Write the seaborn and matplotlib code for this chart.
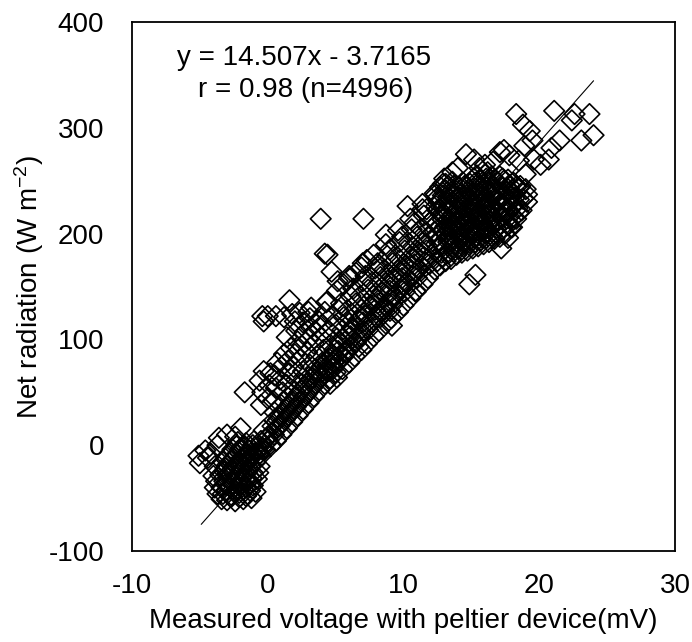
import numpy as np
import pandas as pd
import matplotlib
matplotlib.use("Agg")
import matplotlib.pyplot as plt
import seaborn as sns

# Points, grouped by the part of the cloud they belong to
# (voltage in mV, net radiation in W m-2)
low_blob = [
    (-3.0, -52), (-2.4, -53), (-1.8, -51),
    (-3.3, -46), (-2.7, -47), (-2.1, -45), (-1.5, -46),
    (-3.4, -40), (-2.8, -39), (-2.2, -41), (-1.6, -40), (-1.1, -38),
    (-3.2, -34), (-2.6, -33), (-2.0, -35), (-1.4, -33),
    (-3.5, -28), (-2.9, -27), (-2.3, -29), (-1.7, -28), (-1.1, -26),
    (-3.1, -22), (-2.5, -21), (-1.9, -23), (-1.3, -20),
    (-3.3, -16), (-2.7, -15), (-2.1, -17), (-1.5, -14), (-0.9, -16),
    (-2.9, -10), (-2.3, -9), (-1.7, -11), (-1.1, -8),
    (-2.6, -4), (-2.0, -3), (-1.4, -5), (-0.8, -2),
    (-2.2, 3), (-1.6, 2), (-1.0, 4),
    (-2.7, -49), (-2.1, -49), (-1.6, -48),
    (-3.0, -43), (-2.4, -43), (-1.8, -42), (-1.3, -43),
    (-3.1, -37), (-2.5, -37), (-1.9, -36), (-1.3, -37),
    (-2.9, -31), (-2.3, -31), (-1.7, -32), (-1.2, -31),
    (-3.2, -25), (-2.6, -25), (-2.0, -24), (-1.5, -25),
    (-3.0, -19), (-2.4, -19), (-1.8, -18), (-1.2, -19),
    (-3.1, -13), (-2.5, -13), (-1.9, -12), (-1.3, -13),
    (-2.7, -7), (-2.1, -7), (-1.5, -8), (-0.9, -7),
    (-2.3, -1), (-1.7, -1), (-1.1, 0),
    (-3.8, -34), (-3.9, -40), (-3.7, -46), (-3.4, -51), (-1.2, -50), (-0.9, -44),
    (-0.8, -32), (-0.6, -20), (-0.5, -10), (-0.7, -26), (-0.4, -4),
    (-5.0, -17), (-5.1, -10), (-4.0, -29), (-4.6, -5), (-3.7, 0), (-4.4, -12),
    (-3.9, -20), (-4.2, -8), (-3.6, 7), (-3.0, 10), (-2.4, 8), (-2.0, 16), (-1.7, 50),
]

low_band = [
    (-0.6, -8), (-0.5, 4), (-0.2, -4), (0.0, 8), (0.2, -1), (0.3, 12), (0.6, 4),
    (0.7, 16), (1.0, 10), (1.1, 22), (1.4, 16), (1.5, 28), (1.8, 22), (1.9, 34),
    (2.2, 28), (2.3, 40), (2.6, 34), (2.7, 46), (3.0, 40), (3.1, 52), (3.4, 46),
    (3.5, 58), (3.8, 52), (3.9, 64), (4.2, 58), (4.3, 70), (4.6, 63), (4.7, 76),
    (5.0, 69), (5.1, 82), (0.5, 24), (1.3, 34), (2.1, 46), (2.9, 58), (3.7, 70),
    (4.5, 82), (-0.9, -12), (-0.3, 14), (0.9, 28), (1.7, 40), (2.5, 52), (3.3, 64),
    (4.1, 76),
    (-0.4, -2), (0.05, 4), (0.45, 10), (0.85, 18), (1.25, 24), (1.65, 30), (2.05, 36),
    (2.45, 42), (2.85, 48), (3.25, 54), (3.65, 60), (4.05, 66), (4.45, 72), (4.85, 78),
    (-0.1, 6), (0.35, 18), (0.75, 24), (1.15, 30), (1.55, 36), (1.95, 42), (2.35, 50),
    (2.75, 56), (3.15, 62), (3.55, 68), (3.95, 74), (4.35, 80), (4.75, 86),
]

upper_shelf = [
    (-0.5, 38), (-0.4, 50), (-0.6, 61), (-0.3, 70), (0.0, 44), (0.1, 57), (0.2, 68),
    (0.5, 31), (0.4, 42), (0.6, 54), (0.5, 66), (0.7, 78),
    (1.0, 38), (1.1, 50), (0.9, 62), (1.0, 74), (1.2, 86),
    (1.5, 45), (1.4, 57), (1.6, 68), (1.5, 80), (1.7, 92), (1.4, 102),
    (2.0, 51), (2.1, 62), (1.9, 74), (2.0, 86), (2.2, 98), (2.1, 108),
    (2.5, 58), (2.6, 70), (2.4, 82), (2.5, 94), (2.7, 106),
    (3.0, 64), (3.1, 76), (2.9, 88), (3.0, 100), (3.2, 111), (3.1, 120),
    (3.5, 72), (3.6, 84), (3.4, 96), (3.5, 108), (3.7, 118),
    (4.0, 78), (4.1, 90), (3.9, 102), (4.0, 114), (4.2, 126), (4.3, 135),
    (-0.4, 122), (-0.3, 117), (0.0, 122), (0.6, 122), (1.2, 121), (1.8, 124),
    (2.0, 117), (1.6, 137), (3.0, 126), (2.6, 116), (2.35, 125), (3.2, 130),
]

mid_band = [
    (4.6, 58), (4.5, 70), (4.7, 83), (4.6, 95), (4.5, 108), (4.7, 122), (4.4, 136),
    (5.1, 64), (5.0, 77), (5.2, 89), (5.1, 101), (5.0, 114), (5.2, 128), (5.1, 146),
    (5.5, 72), (5.6, 84), (5.4, 96), (5.5, 109), (5.6, 121), (5.4, 134), (5.6, 152),
    (6.0, 78), (5.9, 90), (6.1, 103), (6.0, 115), (5.9, 128), (6.1, 141), (6.0, 158),
    (6.4, 84), (6.5, 97), (6.3, 109), (6.4, 122), (6.5, 134), (6.3, 148), (6.5, 163),
    (6.9, 90), (6.8, 103), (7.0, 116), (6.9, 128), (6.8, 141), (7.0, 155), (6.9, 168),
    (7.3, 96), (7.4, 109), (7.2, 122), (7.3, 134), (7.4, 147), (7.2, 160), (7.3, 175),
    (7.8, 103), (7.7, 116), (7.9, 128), (7.8, 141), (7.7, 154), (7.9, 167), (7.8, 180),
    (8.2, 108), (8.3, 121), (8.1, 134), (8.2, 147), (8.3, 159), (8.1, 172),
    (8.7, 115), (8.6, 128), (8.8, 141), (8.7, 153), (8.6, 166), (8.8, 179), (8.7, 190),
    (9.1, 120), (9.2, 133), (9.0, 146), (9.1, 159), (9.2, 172), (9.0, 185),
    (9.6, 126), (9.5, 139), (9.7, 152), (9.6, 165), (9.5, 178), (9.7, 192), (9.6, 203),
    (10.0, 132), (10.1, 145), (9.9, 158), (10.0, 171), (10.1, 184), (9.9, 197),
    (10.5, 139), (10.4, 152), (10.6, 165), (10.5, 178), (10.4, 191), (10.6, 204), (10.5, 214),
    (10.9, 145), (11.0, 158), (10.8, 171), (10.9, 184), (11.0, 197), (10.8, 210),
    (11.4, 152), (11.3, 165), (11.5, 178), (11.4, 191), (11.3, 204), (11.5, 217), (11.4, 228),
    (11.8, 158), (11.9, 171), (11.7, 184), (11.8, 197), (11.9, 210), (11.7, 223),
    (4.8, 72), (5.3, 80), (5.8, 88), (6.2, 94), (6.7, 101), (7.1, 108), (7.6, 115),
    (8.0, 121), (8.4, 127), (8.9, 134), (9.3, 140), (9.8, 147), (10.2, 153), (10.7, 160),
    (11.1, 166), (11.6, 173),
    (4.9, 90), (5.3, 97), (5.8, 104), (6.2, 111), (6.7, 118), (7.1, 125), (7.6, 132),
    (8.0, 138), (8.4, 145), (8.9, 151), (9.3, 158), (9.8, 164), (10.2, 170), (10.7, 177),
    (11.1, 183), (11.6, 190),
]

core = [
    (12.3, 166), (12.2, 178), (12.4, 190), (12.3, 202), (12.2, 214), (12.4, 226), (12.3, 238),
    (12.7, 170), (12.8, 182), (12.6, 194), (12.7, 206), (12.8, 218), (12.6, 230), (12.7, 244),
    (13.1, 174), (13.0, 185), (13.2, 196), (13.1, 207), (13.0, 218), (13.2, 229), (13.1, 241), (13.0, 252),
    (13.5, 176), (13.6, 187), (13.4, 198), (13.5, 208), (13.6, 218), (13.4, 228), (13.5, 239), (13.6, 249),
    (13.9, 180), (13.8, 190), (14.0, 200), (13.9, 210), (13.8, 220), (14.0, 230), (13.9, 240),
    (14.3, 182), (14.4, 192), (14.2, 201), (14.3, 210), (14.4, 219), (14.2, 228), (14.3, 238), (14.4, 248),
    (14.7, 184), (14.6, 194), (14.8, 203), (14.7, 212), (14.6, 221), (14.8, 230), (14.7, 240),
    (15.1, 186), (15.2, 196), (15.0, 205), (15.1, 214), (15.2, 223), (15.0, 232), (15.1, 242), (15.2, 252),
    (15.5, 188), (15.4, 198), (15.6, 207), (15.5, 216), (15.4, 225), (15.6, 234), (15.5, 244), (15.4, 255),
    (15.9, 190), (16.0, 200), (15.8, 209), (15.9, 218), (16.0, 227), (15.8, 236), (15.9, 246), (16.0, 256),
    (16.3, 192), (16.2, 202), (16.4, 211), (16.3, 220), (16.2, 229), (16.4, 238), (16.3, 248), (16.2, 258),
    (16.7, 195), (16.8, 205), (16.6, 214), (16.7, 223), (16.8, 232), (16.6, 241), (16.7, 251),
    (17.1, 197), (17.0, 207), (17.2, 216), (17.1, 226), (17.0, 235), (17.2, 245), (17.1, 254),
    (17.5, 200), (17.6, 210), (17.4, 220), (17.5, 230), (17.6, 240), (17.4, 250),
    (17.9, 206), (17.8, 216), (18.0, 226), (17.9, 236), (17.8, 246),
    (18.3, 214), (18.4, 224), (18.2, 234), (18.3, 244),
    (18.7, 222), (18.8, 233), (18.6, 245),
    (19.1, 230), (19.0, 242),
    (12.5, 174), (12.5, 186), (12.5, 198), (12.5, 210), (12.5, 222), (12.5, 234),
    (12.9, 178), (12.9, 190), (12.9, 202), (12.9, 213), (12.9, 224), (12.9, 236), (12.9, 247),
    (13.3, 181), (13.3, 192), (13.3, 203), (13.3, 213), (13.3, 223), (13.3, 234), (13.3, 245),
    (13.7, 183), (13.7, 195), (13.7, 205), (13.7, 215), (13.7, 225), (13.7, 235), (13.7, 245),
    (14.1, 186), (14.1, 197), (14.1, 206), (14.1, 215), (14.1, 224), (14.1, 234), (14.1, 244),
    (14.5, 189), (14.5, 199), (14.5, 208), (14.5, 217), (14.5, 226), (14.5, 235), (14.5, 245),
    (14.9, 191), (14.9, 201), (14.9, 210), (14.9, 219), (14.9, 228), (14.9, 237), (14.9, 247),
    (15.3, 192), (15.3, 202), (15.3, 211), (15.3, 220), (15.3, 229), (15.3, 238), (15.3, 248),
    (15.7, 194), (15.7, 203), (15.7, 212), (15.7, 221), (15.7, 230), (15.7, 240), (15.7, 250),
    (16.1, 196), (16.1, 205), (16.1, 215), (16.1, 224), (16.1, 233), (16.1, 243), (16.1, 252),
    (16.5, 198), (16.5, 208), (16.5, 217), (16.5, 226), (16.5, 235), (16.5, 245), (16.5, 254),
    (16.9, 200), (16.9, 211), (16.9, 220), (16.9, 230), (16.9, 240), (16.9, 249),
    (17.3, 204), (17.3, 214), (17.3, 224), (17.3, 234), (17.3, 243), (17.3, 252),
    (17.7, 208), (17.7, 220), (17.7, 231), (17.7, 242), (17.7, 251),
    (18.1, 215), (18.1, 226), (18.1, 238), (18.1, 248),
    (18.5, 220), (18.5, 232), (18.5, 243),
]

outliers = [
    (18.3, 313), (18.8, 303), (19.3, 297), (19.5, 288), (18.9, 283), (17.4, 279), (16.0, 265),
    (21.1, 316), (22.6, 313), (23.7, 313), (22.4, 307), (24.0, 293), (23.1, 288), (21.5, 288),
    (20.9, 281), (20.7, 270), (20.1, 265), (19.6, 270), (18.5, 269), (17.8, 274), (19.0, 256),
    (19.1, 237), (18.0, 206),
    (14.6, 275), (15.6, 262), (17.1, 277), (13.6, 258), (13.1, 247), (12.4, 237), (10.3, 226),
    (11.4, 223), (14.0, 262), (15.2, 270), (16.6, 268),
    (3.9, 214), (7.05, 214), (8.7, 199), (4.2, 181), (4.7, 164), (7.0, 172), (8.2, 170),
    (4.4, 180), (5.15, 155), (6.0, 160),
    (15.3, 161), (14.85, 152), (17.7, 196), (17.2, 186), (10.9, 146), (9.0, 127), (9.15, 113),
    (6.7, 93),
]

# fitted line as printed on the chart
slope, intercept = 14.507, -3.7165
fit_x = [-4.9, 24.0]

xticks = [-10, 0, 10, 20, 30]
yticks = [-100, 0, 100, 200, 300, 400]

pts = low_blob + low_band + upper_shelf + mid_band + core + outliers
df = pd.DataFrame(pts, columns=["voltage", "rn"])

sns.set_style("white")
plt.rcParams['font.family'] = ['Liberation Sans', 'DejaVu Sans']
plt.rcParams['mathtext.fontset'] = 'custom'
plt.rcParams['mathtext.rm'] = 'Liberation Sans'
plt.rcParams['mathtext.it'] = 'Liberation Sans'
plt.rcParams['axes.unicode_minus'] = False
plt.rcParams['text.color'] = 'black'
plt.rcParams['axes.labelcolor'] = 'black'

fig = plt.figure(figsize=(6.92, 6.42), dpi=100)
ax = fig.add_axes([132 / 692, 91 / 642, 543 / 692, 529 / 642])

sns.scatterplot(data=df, x="voltage", y="rn", ax=ax, marker="D", s=110,
                facecolors="none", edgecolor="black", linewidth=1.2, legend=False)

fx = np.array(fit_x)
ax.plot(fx, slope * fx + intercept, color="black", linewidth=0.8)

ax.text(2.7, 366, "y = 14.507x - 3.7165", ha="center", va="center", fontsize=20)
ax.text(2.8, 336, "r = 0.98 (n=4996)", ha="center", va="center", fontsize=20)

ax.set_xlim(-10, 30)
ax.set_ylim(-100, 400)
ax.set_xticks(xticks)
ax.set_yticks(yticks)
ax.tick_params(direction="in", length=7, width=1.2, labelsize=20, colors="black")
ax.tick_params(axis="x", pad=16)
ax.tick_params(axis="y", pad=20)
for sp in ax.spines.values():
    sp.set_color("black")
    sp.set_linewidth(1.3)

ax.set_xlabel("Measured voltage with peltier device(mV)", fontsize=20, labelpad=6)
ax.set_ylabel("Net radiation (W m$^{-2}$)", fontsize=20, labelpad=2)

fig.savefig("out.png", dpi=100)
